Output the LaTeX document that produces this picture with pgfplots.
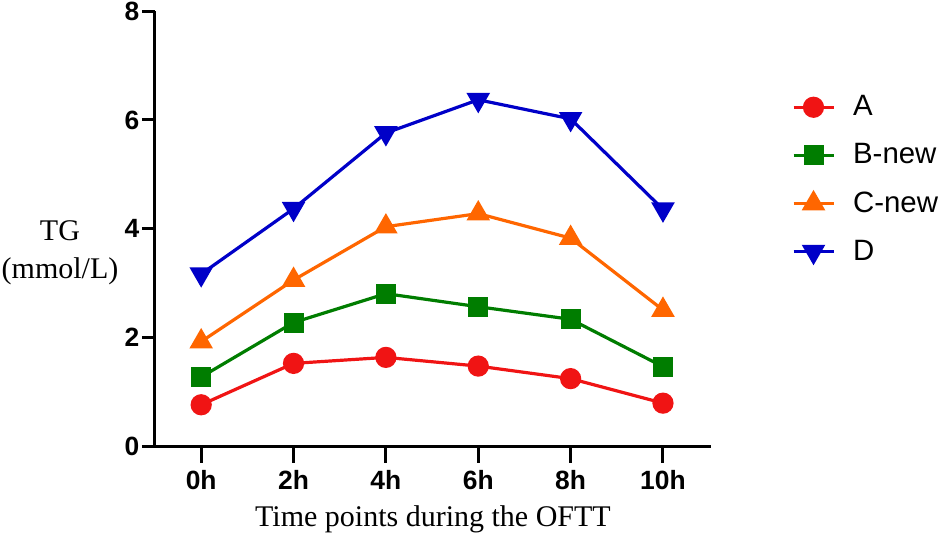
\documentclass[border=0pt]{standalone}
\usepackage{fontspec}
\setmainfont{Liberation Serif}
\setsansfont{Liberation Sans}
\usepackage{pgfplots}
\pgfplotsset{compat=1.18}
\definecolor{cA}{RGB}{240,20,20}
\definecolor{cB}{RGB}{0,125,0}
\definecolor{cC}{RGB}{255,102,0}
\definecolor{cD}{RGB}{0,0,200}
\begin{document}
\begin{tikzpicture}
\begin{axis}[
  scale only axis,
  width=278pt, height=217.85pt,
  xmin=-0.5, xmax=5.52, ymin=0, ymax=8,
  axis x line*=bottom, axis y line*=left,
  axis line style={line width=1.5pt},
  xtick={0,1,2,3,4,5},
  xticklabels={0h,2h,4h,6h,8h,10h},
  ytick={0,2,4,6,8},
  tick style={line width=1.5pt, black},
  xtick style={/pgfplots/major tick length=8pt},
  ytick style={/pgfplots/major tick length=6.5pt},
  tick align=outside,
  ticklabel style={font=\sffamily\bfseries\fontsize{13.2}{14}\selectfont},
  xticklabel style={yshift=-4pt},
  /pgf/number format/assume math mode=true,
  xlabel={Time points during the OFTT},
  xlabel style={font=\fontsize{15}{17}\selectfont, yshift=-1pt},
  legend style={draw=none, fill=none, at={(rel axis cs:1.134,0.825)}, anchor=north west,
    font=\sffamily\fontsize{14.7}{16}\selectfont, row sep=8.4pt},
  legend cell align=left,
  /tikz/every even column/.append style={column sep=6pt},
  legend image code/.code={\draw[#1] (0pt,0pt) -- (20pt,0pt); \draw[#1] plot coordinates {(10pt,0pt)}; \path (27pt,0pt);},
  every axis plot/.append style={line width=1.6pt},
  clip=false,
]
\coordinate (sw) at (rel axis cs:0,0);
\addplot[cA, mark=*, mark size=4.5pt, mark options={solid, fill=cA, draw=cA}] coordinates {(0,0.77) (1,1.53) (2,1.64) (3,1.48) (4,1.25) (5,0.80)};
\addlegendentry{A}
\addplot[cB, mark=square*, mark size=4.2pt, mark options={solid, fill=cB, draw=cB}] coordinates {(0,1.28) (1,2.28) (2,2.81) (3,2.57) (4,2.34) (5,1.47)};
\addlegendentry{B-new}
\addplot[cC, mark=triangle*, mark size=5.2pt, mark options={solid, fill=cC, draw=cC}] coordinates {(0,1.93) (1,3.06) (2,4.04) (3,4.28) (4,3.83) (5,2.51)};
\addlegendentry{C-new}
\addplot[cD, mark=triangle*, mark size=5.2pt, mark options={solid, fill=cD, draw=cD, rotate=180}] coordinates {(0,3.17) (1,4.37) (2,5.76) (3,6.37) (4,6.02) (5,4.36)};
\addlegendentry{D}
\node[align=center, font=\fontsize{15}{19}\selectfont] at ([xshift=-47.5pt]rel axis cs:0,0.445) {TG\\(mmol/L)};
\end{axis}
\pgfresetboundingbox
\path[use as bounding box] ([shift={(-77.5pt,-44.65pt)}]sw) rectangle ([shift={(395pt,223.35pt)}]sw);
\end{tikzpicture}
\end{document}
